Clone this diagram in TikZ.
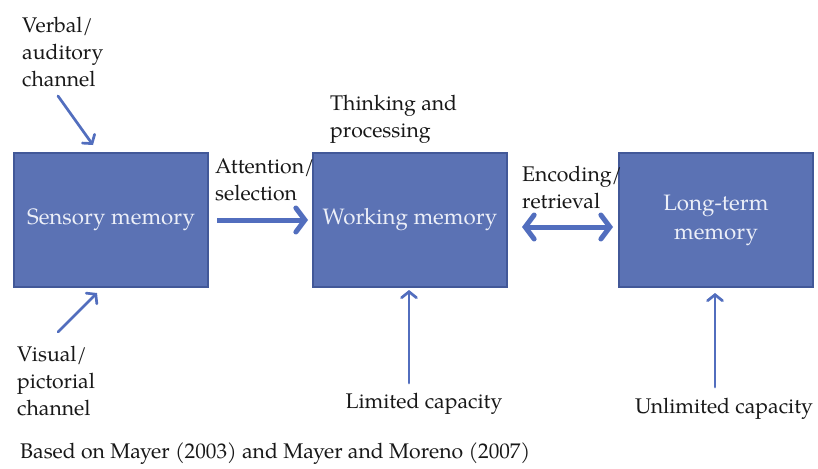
\documentclass[tikz,border=0pt]{standalone}
\usepackage{fontspec}
\setmainfont{TeX Gyre Pagella}
\usetikzlibrary{arrows.meta}
\definecolor{boxfill}{RGB}{91,114,180}
\definecolor{boxedge}{RGB}{66,88,152}
\definecolor{arrowblue}{RGB}{82,110,190}
\definecolor{boxtext}{RGB}{236,239,248}
\definecolor{ink}{RGB}{24,24,24}
\tikzset{
  membox/.style={draw=boxedge, line width=1.6pt, fill=boxfill, minimum width=194pt, minimum height=134pt,
    inner sep=0pt, text=boxtext, align=center, font=\fontsize{22.3}{29}\selectfont},
  lbl/.style={inner sep=0pt, text=ink, align=left, font=\fontsize{21.2}{27}\selectfont},
  thinarrow/.style={draw=arrowblue, line width=2.7pt, line cap=round, -{Straight Barb[length=6pt,width=15pt,line cap=round]}},
  thickarrow/.style={draw=arrowblue, line width=5pt, -{Straight Barb[length=9pt,width=24pt,line cap=round]}},
  dblarrow/.style={draw=arrowblue, line width=5pt, {Straight Barb[length=9pt,width=24pt,line cap=round]}-{Straight Barb[length=9pt,width=24pt,line cap=round]}}
}
\begin{document}
\begin{tikzpicture}[x=1pt,y=-1pt]
\useasboundingbox[fill=white] (0,0) rectangle (818,468);
% boxes
\node[membox] (sm) at (111,220) {Sensory memory};
\node[membox] (wm) at (410,220) {Working memory};
\node[membox] (ltm) at (716,220) {Long-term\\memory};
% labels
\node[lbl, anchor=north west] (verbal) at (22,17) {Verbal/\\auditory\\channel};
\node[lbl, anchor=north west] (visual) at (17,346) {Visual/\\pictorial\\channel};
\node[lbl, anchor=north west] (attn) at (215,158) {Attention/\\selection};
\node[lbl, anchor=north west] (think) at (330,95) {Thinking and\\processing};
\node[lbl, anchor=north west] (enc) at (522,166) {Encoding/\\retrieval};
\node[lbl, anchor=base] (lim) at (424,408) {Limited capacity};
\node[lbl, anchor=base] (unlim) at (724,413) {Unlimited capacity};
\node[lbl, anchor=base west] (src) at (20,458) {Based on Mayer (2003) and Mayer and Moreno (2007)};
% arrow end points
\coordinate (v1) at (58,96);
\coordinate (v2) at (93,145);
\coordinate (p1) at (58,332);
\coordinate (p2) at (97,293);
\coordinate (a1) at (217,220);
\coordinate (a2) at (308,220);
\coordinate (e1) at (522,227);
\coordinate (e2) at (613,227);
\coordinate (l1) at (409,383);
\coordinate (l2) at (409,290);
\coordinate (u1) at (715,387);
\coordinate (u2) at (715,293);
\draw[thinarrow] (v1) -- (v2);
\draw[thinarrow] (p1) -- (p2);
\draw[thickarrow] (a1) -- (a2);
\draw[dblarrow] (e1) -- (e2);
\draw[thinarrow] (l1) -- (l2);
\draw[thinarrow] (u1) -- (u2);
\end{tikzpicture}
\end{document}
